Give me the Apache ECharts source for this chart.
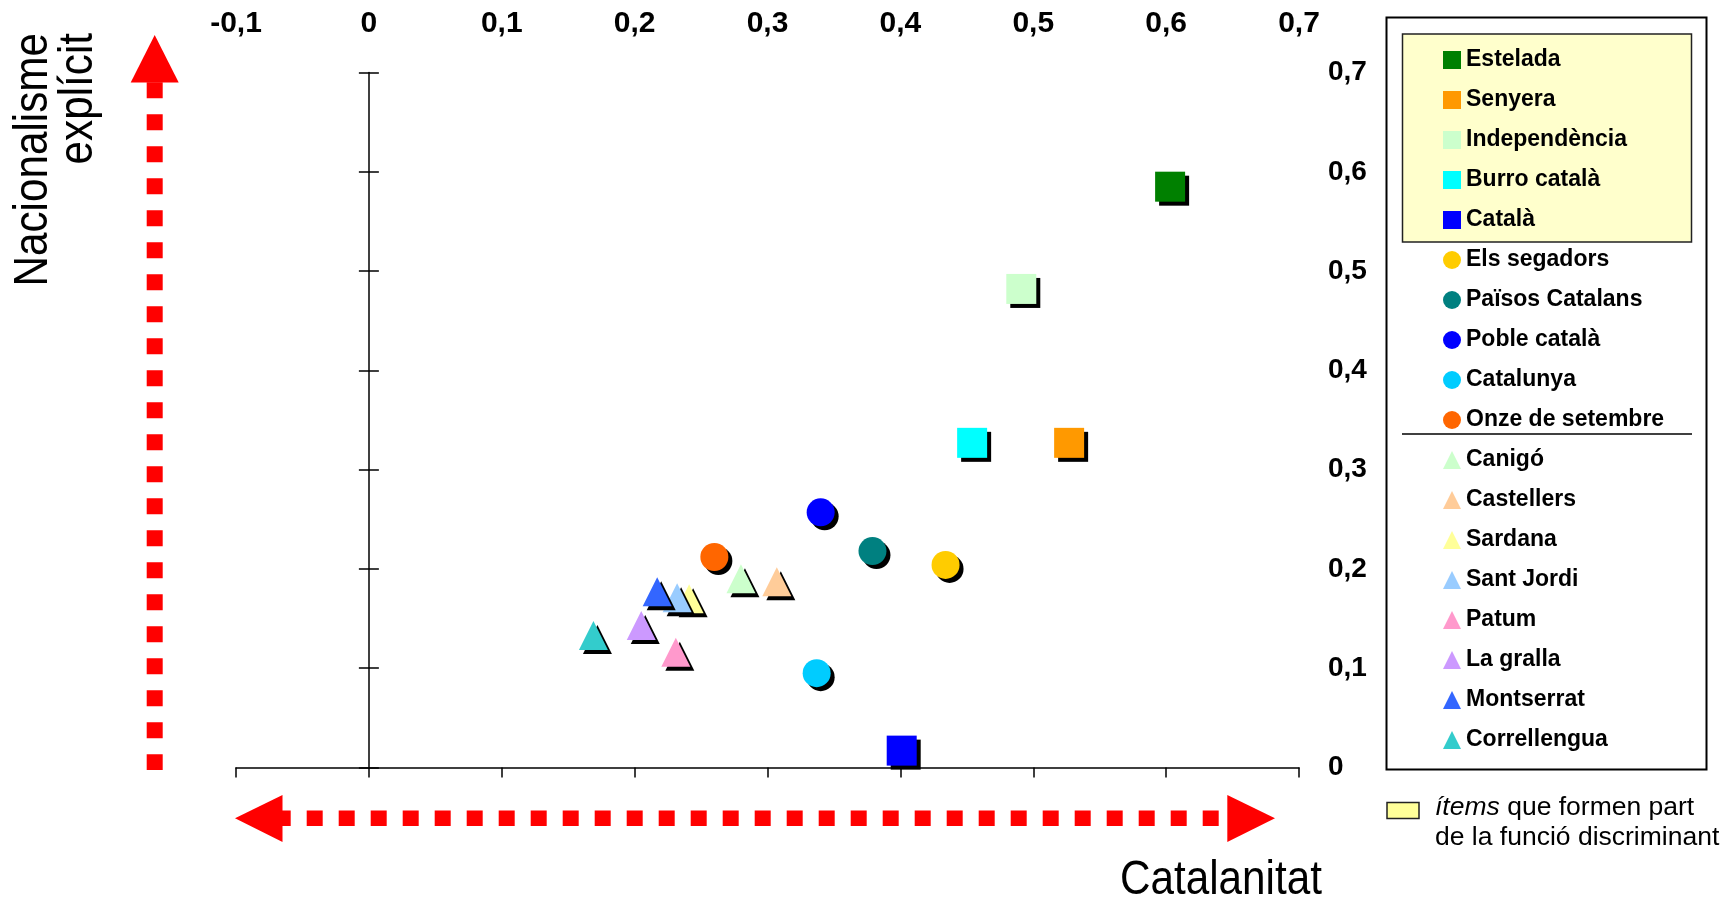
<!DOCTYPE html>
<html><head><meta charset="utf-8">
<script src="https://cdn.jsdelivr.net/npm/echarts@6/dist/echarts.min.js"></script>
<style>html,body{margin:0;padding:0;background:#fff}#c{width:1735px;height:901px}</style>
</head><body><div id="c"></div>
<script>
// ---- data ----
const names = ['Estelada','Senyera','Independència','Burro català','Català',
  'Els segadors','Països Catalans','Poble català','Catalunya','Onze de setembre',
  'Canigó','Castellers','Sardana','Sant Jordi','Patum','La gralla','Montserrat','Correllengua'];
const catalanitat = [0.603,0.527,0.491,0.454,0.401,
  0.434,0.379,0.340,0.337,0.260,
  0.280,0.307,0.241,0.232,0.231,0.205,0.217,0.169];
const nacionalisme = [0.585,0.327,0.482,0.327,0.017,
  0.204,0.218,0.257,0.095,0.212,
  0.190,0.187,0.170,0.171,0.116,0.143,0.177,0.133];
const xTickLabels = ['-0,1','0','0,1','0,2','0,3','0,4','0,5','0,6','0,7'];
const yTickLabels = ['0','0,1','0,2','0,3','0,4','0,5','0,6','0,7'];
const xTitle = 'Catalanitat';
const yTitle = 'Nacionalisme\nexplícit';
const noteItalic = 'ítems';
const noteRest = ' que formen part\nde la funció discriminant';

// ---- styles ----
const shapes = ['rect','rect','rect','rect','rect',
  'circle','circle','circle','circle','circle',
  'triangle','triangle','triangle','triangle','triangle','triangle','triangle','triangle'];
const shapeSize = {rect:30, circle:28, triangle:29};
const colors = ['#008000','#FF9900','#CCFFCC','#00FFFF','#0000FF',
  '#FFCC00','#008080','#0000FF','#00CCFF','#FF6600',
  '#CCFFCC','#FFCC99','#FFFF99','#99CCFF','#FF99CC','#CC99FF','#3366FF','#33CCCC'];

const X_MIN = -0.1, X_MAX = 0.7, Y_MIN = 0, Y_MAX = 0.7, STEP = 0.1;
const FONT = "'Liberation Sans', Arial, sans-serif";
const NARROW = "'Liberation Sans Narrow', 'Arial Narrow', 'Liberation Sans', Arial, sans-serif";
const xFmt = v => xTickLabels[Math.round((v - X_MIN) / STEP)] ?? '';
const yFmt = v => yTickLabels[Math.round((v - Y_MIN) / STEP)] ?? '';

const series = names.map((n, i) => ({
  name: n, type: 'scatter', xAxisIndex: 0, yAxisIndex: 0,
  symbol: shapes[i], symbolSize: shapeSize[shapes[i]],
  data: [[catalanitat[i], nacionalisme[i]]],
  itemStyle: {color: colors[i], opacity: 1, shadowColor: '#000', shadowBlur: 0, shadowOffsetX: 4, shadowOffsetY: 4},
  emphasis: {disabled: true}, z: 2 + i * 0.01
}));

const red = '#FF0000';
const chart = echarts.init(document.getElementById('c'), null, {renderer: 'canvas'});
chart.setOption({
  animation: false,
  backgroundColor: '#fff',
  grid: {left: 236, top: 72.5, width: 1063, height: 695, containLabel: false},
  xAxis: [
    {type: 'value', min: X_MIN, max: X_MAX, interval: STEP, position: 'bottom',
     axisLine: {show: true, onZero: false, lineStyle: {color: '#000', width: 1.5}},
     axisTick: {show: true, length: 10, lineStyle: {color: '#000', width: 1.5}},
     axisLabel: {show: false}, splitLine: {show: false}},
    {type: 'value', min: X_MIN, max: X_MAX, interval: STEP, position: 'top',
     axisLine: {show: false, onZero: false}, axisTick: {show: false}, splitLine: {show: false},
     axisLabel: {show: true, margin: 34, formatter: xFmt, fontFamily: NARROW, fontWeight: 'bold', fontSize: 30, color: '#000'}}
  ],
  yAxis: [
    {type: 'value', min: Y_MIN, max: Y_MAX, interval: STEP, position: 'left',
     axisLine: {show: true, onZero: true, lineStyle: {color: '#000', width: 1.5}},
     axisTick: {show: true, length: 10, lineStyle: {color: '#000', width: 1.5}},
     axisLabel: {show: false}, splitLine: {show: false}},
    {type: 'value', min: Y_MIN, max: Y_MAX, interval: STEP, position: 'right',
     axisLine: {show: false, onZero: false}, axisTick: {show: false}, splitLine: {show: false},
     axisLabel: {show: true, margin: 29, formatter: yFmt, fontFamily: FONT, fontWeight: 'bold', fontSize: 28, color: '#000'}},
    {type: 'value', min: Y_MIN, max: Y_MAX, interval: STEP, position: 'left',
     axisLine: {show: false, onZero: true},
     axisTick: {show: true, inside: true, length: 10, lineStyle: {color: '#000', width: 1.5}},
     axisLabel: {show: false}, splitLine: {show: false}}
  ],
  legend: {
    orient: 'vertical', left: 1443, top: 48, padding: 0, itemGap: 16,
    itemWidth: 18, itemHeight: 18, selectedMode: false,
    textStyle: {fontFamily: FONT, fontWeight: 'bold', fontSize: 23, color: '#000', lineHeight: 24},
    itemStyle: {shadowBlur: 0, shadowOffsetX: 0, shadowOffsetY: 0, shadowColor: 'rgba(0,0,0,0)'},
    data: names.map(n => ({name: n}))
  },
  graphic: [
    // legend frame
    {type: 'rect', z: 0, shape: {x: 1386.5, y: 17.5, width: 320, height: 752},
     style: {fill: '#fff', stroke: '#000', lineWidth: 2}},
    {type: 'rect', z: 1, shape: {x: 1402.5, y: 34, width: 289, height: 208},
     style: {fill: '#FFFFCC', stroke: '#222', lineWidth: 1.5}},
    {type: 'line', z: 1, shape: {x1: 1402, y1: 434, x2: 1692, y2: 434},
     style: {stroke: '#000', lineWidth: 1.5}},
    // note
    {type: 'rect', z: 1, shape: {x: 1387, y: 802.5, width: 32, height: 16},
     style: {fill: '#FFFF99', stroke: '#222', lineWidth: 1.5}},
    {type: 'text', z: 1, x: 1435, y: 793,
     style: {text: '{i|' + noteItalic + '}' + noteRest, fontFamily: FONT, fontSize: 26.5, lineHeight: 30,
       fill: '#000', align: 'left', verticalAlign: 'top',
       rich: {i: {fontStyle: 'italic', fontFamily: FONT, fontSize: 26.5, lineHeight: 30, fill: '#000'}}}},
    // axis titles
    {type: 'text', z: 1, x: 1120, y: 881, scaleX: 0.88,
     style: {text: xTitle, fontFamily: FONT, fontSize: 48, fill: '#000', align: 'left', verticalAlign: 'middle'}},
    {type: 'text', z: 1, x: 11, y: 33, rotation: Math.PI / 2, scaleX: 0.88,
     style: {text: yTitle, fontFamily: FONT, fontSize: 48, lineHeight: 45, fill: '#000', align: 'right', verticalAlign: 'top'}},
    // vertical arrow
    {type: 'line', z: 1, shape: {x1: 154.7, y1: 82.3, x2: 154.7, y2: 770},
     style: {stroke: red, lineWidth: 16, lineDash: [16, 16], lineCap: 'butt'}},
    {type: 'polygon', z: 1, shape: {points: [[154.7, 35], [130.7, 82.5], [178.7, 82.5]]}, style: {fill: red}},
    // horizontal arrow
    {type: 'line', z: 1, shape: {x1: 274.7, y1: 818.3, x2: 1219, y2: 818.3},
     style: {stroke: red, lineWidth: 15.5, lineDash: [16, 16], lineCap: 'butt'}},
    {type: 'polygon', z: 1, shape: {points: [[235, 818.3], [282.5, 795], [282.5, 842]]}, style: {fill: red}},
    {type: 'polygon', z: 1, shape: {points: [[1275, 818.3], [1227.3, 795], [1227.3, 842]]}, style: {fill: red}}
  ],
  series: series
});
</script></body></html>
